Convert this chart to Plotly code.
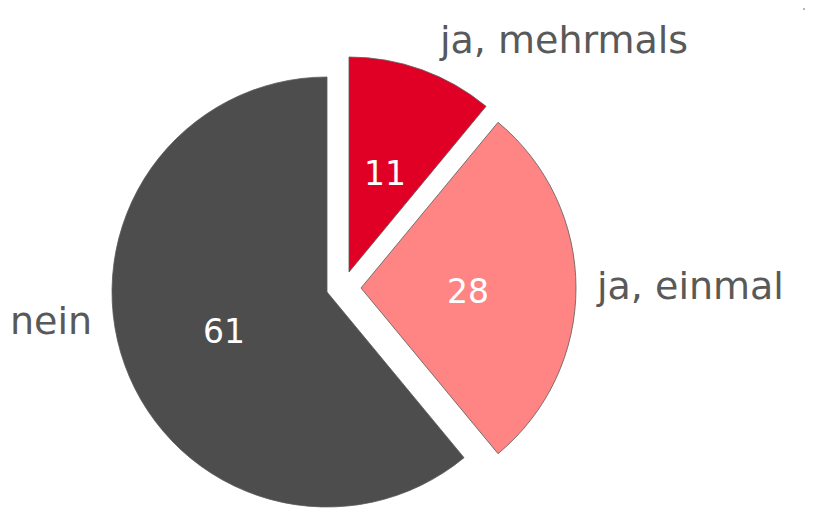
import plotly.graph_objects as go

### DATA ###
labels = ['ja, mehrmals', 'ja, einmal', 'nein']
values = [11, 28, 61]
colors = ['#E00025', '#FF8585', '#4D4D4D']

# the page body adds an 8px margin, so the figure is 8px smaller and coords are shifted
OFF = 8
W, H = 813 - OFF, 509 - OFF
R = 215
# slice centres in page pixels (exploded like the original)
centres = [(349, 272), (361, 288), (327, 292)]
# category label and value label positions in page pixels
label_pos = [(563, 40), (690, 286), (51, 321)]
value_pos = [(385, 173), (468, 291), (224, 331)]

def fx(x):
    return (x - OFF) / W

def fy(y):
    return 1 - (y - OFF) / H

def px_domain(cx, cy, r):
    return dict(x=[fx(cx - r), fx(cx + r)], y=[fy(cy + r), fy(cy - r)])

fig = go.Figure()

# one pie per slice so each slice can sit at its own offset
for i, (cx, cy) in enumerate(centres):
    slice_colors = [c if j == i else 'rgba(0,0,0,0)' for j, c in enumerate(colors)]
    line_colors = ['#5a5a5a' if j == i else 'rgba(0,0,0,0)' for j in range(len(values))]
    fig.add_trace(go.Pie(labels=labels, values=values,
                         sort=False, direction='clockwise', rotation=0,
                         marker=dict(colors=slice_colors,
                                     line=dict(color=line_colors, width=0.8)),
                         textinfo='none',
                         domain=px_domain(cx, cy, R),
                         showlegend=False, hoverinfo='label+value'))

for lab, (x, y) in zip(labels, label_pos):
    fig.add_annotation(text=lab, x=fx(x), y=fy(y), xref='paper', yref='paper',
                       showarrow=False, xanchor='center', yanchor='middle',
                       font=dict(family='DejaVu Sans', size=38, color='#595959'))

for v, (x, y) in zip(values, value_pos):
    fig.add_annotation(text=str(v), x=fx(x), y=fy(y), xref='paper', yref='paper',
                       showarrow=False, xanchor='center', yanchor='middle',
                       font=dict(family='DejaVu Sans', size=33, color='white'))

# small cropped marks at the right edge
for (x0, y0) in [(803, 9), (805, 303)]:
    fig.add_shape(type='line', xref='paper', yref='paper',
                  x0=fx(x0), x1=fx(812), y0=fy(y0), y1=fy(y0),
                  line=dict(color='#707070', width=1.2))

fig.update_layout(width=W, height=H, margin=dict(l=0, r=0, t=0, b=0),
                  paper_bgcolor='white', plot_bgcolor='white')

fig.write_html("out.html")
